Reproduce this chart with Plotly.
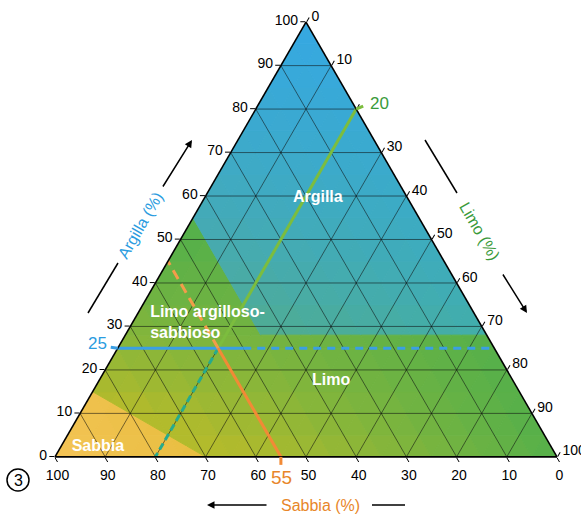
import math
import plotly.graph_objects as go

# ---------------- data ----------------
tick_values = [0, 10, 20, 30, 40, 50, 60, 70, 80, 90, 100]
grid_values = [10, 20, 30, 40, 50, 60, 70, 80, 90]

# classification boundaries (percent)
argilla_min_clay = 28      # Argilla: clay >= 28 ...
argilla_max_sand = 45      # ... and sand <= 45
sabbia_limit = 30          # Sabbia: silt + 2*clay <= 30

# worked example: 25 % clay, 55 % sand, 20 % silt
ex_argilla = 25
ex_sabbia = 55
ex_limo = 20

region_names = ["<b>Argilla</b>", "<b>Limo argilloso-</b><br><b>sabbioso</b>", "<b>Limo</b>", "<b>Sabbia</b>"]
region_lbl_argilla = [59.5, 30.7, 17.4, 2.3]
region_lbl_limo = [22.6, 3.6, 46.3, 7.4]

# ---------------- helpers ----------------
FONT = "Liberation Sans, Arial, Helvetica, sans-serif"
L, R, T, B = 55, 24, 22, 58
FW, FH = 581, 515
W, H = FW - L - R, FH - T - B

# ternary geometry (same rule plotly uses: equilateral, centred in domain)
TW = min(W, H * 2 / math.sqrt(3))
TH = TW * math.sqrt(3) / 2
TX0 = L + (W - TW) / 2
TYB = T + (H + TH) / 2


def tern_xy(a, c):
    return TX0 + TW * (c + a / 2) / 100, TYB - TH * a / 100


def px(x):
    return (x - L) / W


def py(y):
    return (FH - B - y) / H


def clamp(v, lo=0.0, hi=1.0):
    return max(lo, min(hi, v))


def lerp(c1, c2, t):
    return tuple(c1[k] + (c2[k] - c1[k]) * t for k in range(3))


def rgb(c):
    return "rgb(%d,%d,%d)" % tuple(int(round(v)) for v in c)


def clip(poly, f):
    out = []
    n = len(poly)
    for k in range(n):
        P, Q = poly[k], poly[(k + 1) % n]
        fp, fq = f(P), f(Q)
        if fp >= 0:
            out.append(P)
        if (fp >= 0) != (fq >= 0):
            t = fp / (fp - fq)
            out.append((P[0] + t * (Q[0] - P[0]), P[1] + t * (Q[1] - P[1])))
    return out


def area(poly):
    s = 0
    for k in range(len(poly)):
        a1, c1 = poly[k]
        a2, c2 = poly[(k + 1) % len(poly)]
        s += a1 * c2 - a2 * c1
    return abs(s) / 2


def col_argilla(a, b, c):
    t = clamp((a - argilla_min_clay) / (100 - argilla_min_clay))
    s = clamp(b / argilla_max_sand)
    bottom = lerp((66, 174, 168), (82, 172, 140), s)
    return lerp(bottom, (54, 168, 226), t ** 0.75)


def col_green(a, b, c):
    w = 1.45 * (b / 100) * clamp(1 - a / 50)
    return lerp((86, 176, 74), (190, 188, 40), clamp(w, 0, 0.88))


def col_sabbia(a, b, c):
    t = clamp((100 - b) / 30)
    return lerp((244, 196, 86), (232, 190, 64), t)


# half-planes on (A, C)
f_arg1 = lambda p: p[0] - argilla_min_clay
f_arg2 = lambda p: argilla_max_sand - (100 - p[0] - p[1])
f_sab = lambda p: sabbia_limit - p[1] - 2 * p[0]
f_nsab = lambda p: -f_sab(p)
f_low = lambda p: argilla_min_clay - p[0]
f_sandy = lambda p: (100 - p[0] - p[1]) - argilla_max_sand

regions = [
    ([f_arg1, f_arg2], col_argilla),
    ([f_sab], col_sabbia),
    ([f_nsab, f_low], col_green),
    ([f_nsab, f_arg1, f_sandy], col_green),
]

fig = go.Figure()

step = 5
n = 100 // step
cells = []
for i in range(n):
    for j in range(n - i):
        a0, c0 = i * step, j * step
        cells.append([(a0, c0), (a0 + step, c0), (a0, c0 + step)])
        if j < n - i - 1:
            cells.append([(a0 + step, c0), (a0 + step, c0 + step), (a0, c0 + step)])

for cell in cells:
    for fs, cf in regions:
        poly = cell
        for f in fs:
            poly = clip(poly, f)
            if len(poly) < 3:
                break
        if len(poly) < 3 or area(poly) < 1e-6:
            continue
        am = sum(p[0] for p in poly) / len(poly)
        cm = sum(p[1] for p in poly) / len(poly)
        col = rgb(cf(am, 100 - am - cm, cm))
        aa = [p[0] for p in poly] + [poly[0][0]]
        cc = [p[1] for p in poly] + [poly[0][1]]
        bb = [100 - x - y for x, y in zip(aa, cc)]
        fig.add_trace(go.Scatterternary(
            a=aa, b=bb, c=cc, mode="lines", fill="toself", fillcolor=col,
            line=dict(color=col, width=1), hoverinfo="skip", showlegend=False))

# grid lines
gcol = "rgba(15,15,15,0.62)"
for v in grid_values:
    for a_, b_, c_ in (
        ([v, v], [100 - v, 0], [0, 100 - v]),
        ([100 - v, 0], [v, v], [0, 100 - v]),
        ([100 - v, 0], [0, 100 - v], [v, v]),
    ):
        fig.add_trace(go.Scatterternary(a=a_, b=b_, c=c_, mode="lines",
                                        line=dict(color=gcol, width=0.9),
                                        hoverinfo="skip", showlegend=False))

# worked-example lines
GREEN_L = "#7cbd3e"
TEAL = "#27aa8c"
BLUE = "#3a9fe4"
ORANGE = "#f28a36"
ORANGE_D = "#f39c4a"

fig.add_trace(go.Scatterternary(
    a=[100 - ex_limo, ex_argilla], b=[0, ex_sabbia], c=[ex_limo, ex_limo],
    mode="lines", line=dict(color=GREEN_L, width=3), hoverinfo="skip", showlegend=False))
fig.add_trace(go.Scatterternary(
    a=[ex_argilla, 0], b=[ex_sabbia, 100 - ex_limo], c=[ex_limo, ex_limo],
    mode="lines", line=dict(color=TEAL, width=3, dash="7px,4px"), hoverinfo="skip", showlegend=False))
fig.add_trace(go.Scatterternary(
    a=[ex_argilla, ex_argilla], b=[100 - ex_argilla, ex_sabbia - 5], c=[0, ex_limo + 5],
    mode="lines", line=dict(color=BLUE, width=3), hoverinfo="skip", showlegend=False))
fig.add_trace(go.Scatterternary(
    a=[ex_argilla, ex_argilla], b=[ex_sabbia - 5, 0], c=[ex_limo + 5, 100 - ex_argilla],
    mode="lines", line=dict(color=BLUE, width=3, dash="8px,6px"), hoverinfo="skip", showlegend=False))
fig.add_trace(go.Scatterternary(
    a=[0, ex_argilla], b=[ex_sabbia, ex_sabbia], c=[100 - ex_sabbia, ex_limo],
    mode="lines", line=dict(color=ORANGE, width=3), hoverinfo="skip", showlegend=False))
fig.add_trace(go.Scatterternary(
    a=[ex_argilla, 100 - ex_sabbia], b=[ex_sabbia, ex_sabbia], c=[ex_limo, 0],
    mode="lines", line=dict(color=ORANGE_D, width=3, dash="10px,6px"), hoverinfo="skip", showlegend=False))

# region labels
fig.add_trace(go.Scatterternary(
    a=region_lbl_argilla, c=region_lbl_limo,
    b=[100 - x - y for x, y in zip(region_lbl_argilla, region_lbl_limo)],
    mode="text", text=region_names,
    textposition=["middle center", "middle right", "middle center", "middle center"],
    textfont=dict(family=FONT, size=16, color="white"),
    hoverinfo="skip", showlegend=False))


def axis(hide=None):
    return dict(
        min=0, tickmode="array", tickvals=tick_values,
        ticktext=["" if v == hide else str(v) for v in tick_values],
        ticks="outside", ticklen=5,
        tickcolor="black", tickwidth=1, showgrid=False, showline=True,
        linecolor="black", linewidth=1.6, layer="above traces",
        tickfont=dict(family=FONT, size=14, color="black"), title=dict(text=""))


fig.update_layout(
    width=FW, height=FH,
    margin=dict(l=L, r=R, t=T, b=B, autoexpand=False),
    paper_bgcolor="white",
    font=dict(family=FONT),
    showlegend=False,
    ternary=dict(sum=100, bgcolor="white", domain=dict(x=[0, 1], y=[0, 1]),
                 aaxis=axis(), baxis=axis(), caxis=axis(hide=ex_limo)),
)

# positions of the example values on the triangle edges
gx, gy = tern_xy(100 - ex_limo, ex_limo)      # right edge, limo = 20
bx, by = tern_xy(ex_argilla, 0)               # left edge, argilla = 25
ox, oy = tern_xy(0, 100 - ex_sabbia)          # base, sabbia = 55

ann = []
ann.append(dict(x=px(140), y=py(225), text="Argilla (%)", textangle=-60,
                font=dict(family=FONT, size=16, color="#2b9ce0")))
ann.append(dict(x=px(480), y=py(231), text="Limo (%)", textangle=60,
                font=dict(family=FONT, size=16, color="#3a9a3a")))
ann.append(dict(x=px(320), y=py(505), text="Sabbia (%)",
                font=dict(family=FONT, size=16, color="#e8862a")))
ann.append(dict(x=px(gx + 23), y=py(gy - 6), text=str(ex_limo),
                font=dict(family=FONT, size=17, color="#3a9a3a")))
ann.append(dict(x=px(bx - 20), y=py(by - 5), text=str(ex_argilla),
                font=dict(family=FONT, size=17, color="#2b9ce0")))
ann.append(dict(x=px(ox + 1), y=py(oy + 21), text=str(ex_sabbia),
                font=dict(family=FONT, size=19, color="#e8862a")))
ann.append(dict(x=px(18), y=py(480), text="3",
                font=dict(family=FONT, size=16, color="black")))
for a in ann:
    a.update(xref="paper", yref="paper", showarrow=False,
             xanchor="center", yanchor="middle")

for (hx, hy, tx, ty) in ((192, 140, 162, 188), (527, 313, 502, 273), (207, 505, 268, 505)):
    ann.append(dict(x=px(hx), y=py(hy), xref="paper", yref="paper", text="",
                    showarrow=True, ax=tx - hx, ay=ty - hy, arrowhead=2,
                    arrowsize=1, arrowwidth=1.5, arrowcolor="black"))
fig.update_layout(annotations=ann)

shapes = []
for (x0, y0, x1, y1) in ((88, 313, 118, 263), (425, 140, 457, 193), (372, 505, 405, 505)):
    shapes.append(dict(type="line", xref="paper", yref="paper",
                       x0=px(x0), y0=py(y0), x1=px(x1), y1=py(y1),
                       line=dict(color="black", width=1.5)))
# coloured tick marks of the example values
for (x0, y0, x1, y1, col) in ((gx, gy, gx + 7, gy - 3, GREEN_L),
                              (bx - 7, by - 1, bx, by, BLUE),
                              (ox, oy, ox, oy + 8, ORANGE)):
    shapes.append(dict(type="line", xref="paper", yref="paper",
                       x0=px(x0), y0=py(y0), x1=px(x1), y1=py(y1),
                       line=dict(color=col, width=3)))
shapes.append(dict(type="circle", xref="paper", yref="paper",
                   x0=px(7), x1=px(29), y0=py(491), y1=py(469),
                   line=dict(color="black", width=1.5)))
fig.update_layout(shapes=shapes)

fig.write_html("out.html", config={"displayModeBar": False},
               post_script="document.body.style.margin='0';document.body.style.padding='0';")
